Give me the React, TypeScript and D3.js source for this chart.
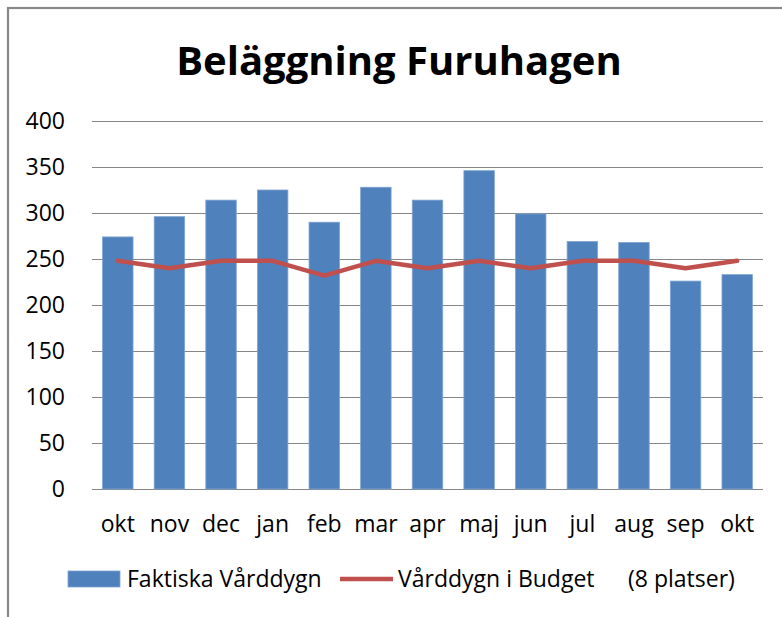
import React from "react";
import * as d3 from "d3";

const months = ["okt", "nov", "dec", "jan", "feb", "mar", "apr", "maj", "jun", "jul", "aug", "sep", "okt"];
const actual = [274, 296, 314, 325, 290, 328, 314, 346, 299, 269, 268, 226, 233];
const budget = [248, 240, 248, 248, 232, 248, 240, 248, 240, 248, 248, 240, 248];
const yTicks = [0, 50, 100, 150, 200, 250, 300, 350, 400];
const title = "Beläggning Furuhagen";
const legendActual = "Faktiska Vårddygn";
const legendBudget = "Vårddygn i Budget";
const legendBudgetNote = "(8 platser)";

const W = 782;
const H = 617;
const left = 92;
const right = 763;
const top = 121;
const bottom = 489;
const FONT = "'Open Sans', sans-serif";
const BLUE = "#4F81BD";
const RED = "#C0504D";
const GRID = "#868686";

export default function App() {
  const idx = months.map((_, i) => String(i));
  const x = d3.scaleBand<string>().domain(idx).range([left, right]).paddingInner(0.41).paddingOuter(0.205);
  const band = d3.scaleBand<string>().domain(idx).range([left, right]);
  const y = d3.scaleLinear().domain([0, 400]).range([bottom, top]);
  const line = d3
    .line<number>()
    .x((_, i) => (band(String(i)) as number) + band.bandwidth() / 2)
    .y((d) => y(d));

  return (
    <svg
      width={W}
      height={H}
      style={{ position: "fixed", left: 0, top: 0, background: "#fff" }}
      fontFamily={FONT}
    >
      <rect x={0} y={0} width={W} height={H} fill="#fff" />
      <rect x={8} y={8} width={W + 20} height={H + 20} fill="none" stroke="#888" strokeWidth={2.2} />
      <text x={399} y={75} textAnchor="middle" fontSize={40} fontWeight="bold" fill="#000">
        {title}
      </text>
      {yTicks.map((t) => (
        <g key={t}>
          <line x1={left} x2={right} y1={Math.round(y(t)) + 0.5} y2={Math.round(y(t)) + 0.5} stroke={GRID} strokeWidth={1.2} />
          <text x={65} y={y(t)} dy="0.36em" textAnchor="end" fontSize={23} fill="#000">
            {t}
          </text>
        </g>
      ))}
      {actual.map((v, i) => (
        <rect
          key={i}
          x={x(String(i))}
          y={y(v)}
          width={x.bandwidth()}
          height={y(0) - y(v)}
          fill={BLUE}
          stroke="#7fa3d1"
          strokeWidth={0.8}
        />
      ))}
      <path d={line(budget) || ""} fill="none" stroke={RED} strokeWidth={4.5} strokeLinejoin="round" strokeLinecap="round" />
      {months.map((m, i) => (
        <text
          key={i}
          x={(band(String(i)) as number) + band.bandwidth() / 2}
          y={532}
          textAnchor="middle"
          fontSize={23}
          fill="#000"
        >
          {m}
        </text>
      ))}
      <rect x={68} y={571} width={52} height={16} fill={BLUE} stroke="#7fa3d1" strokeWidth={0.8} />
      <text x={127} y={587} fontSize={23} fill="#000">
        {legendActual}
      </text>
      <line x1={340} x2={393} y1={579} y2={579} stroke={RED} strokeWidth={4.5} />
      <text x={398} y={587} fontSize={23} fill="#000">
        {legendBudget}
        <tspan x={628}>{legendBudgetNote}</tspan>
      </text>
    </svg>
  );
}
